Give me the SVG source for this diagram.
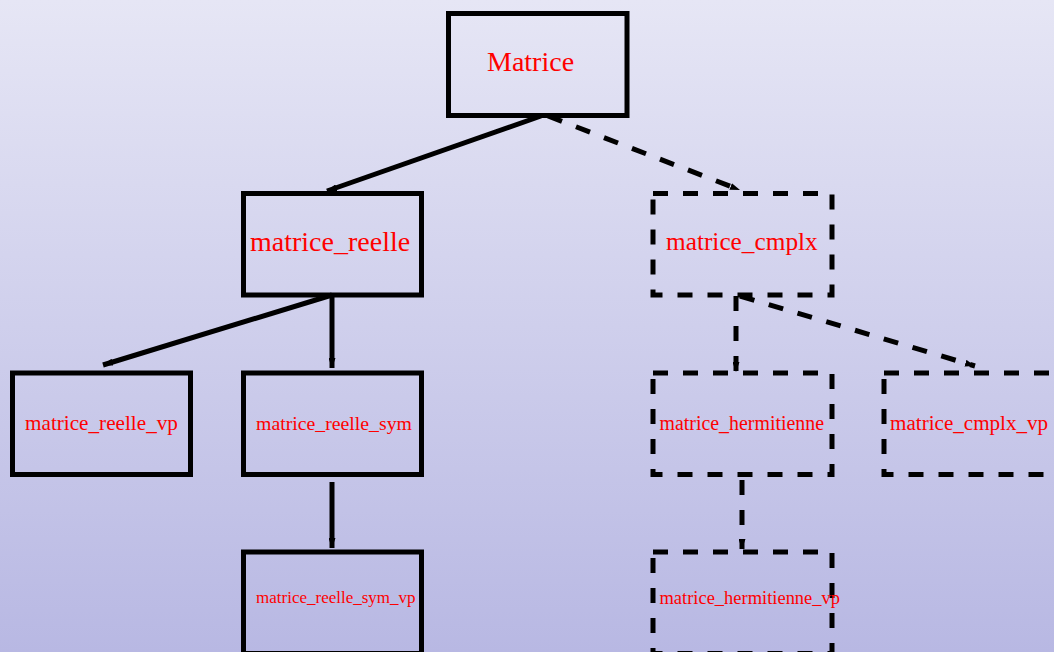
<svg xmlns="http://www.w3.org/2000/svg" width="1054" height="652" viewBox="0 0 1054 652">
  <defs>
    <linearGradient id="bg" x1="0" y1="0" x2="0" y2="1">
      <stop offset="0" stop-color="#e6e6f5"/>
      <stop offset="1" stop-color="#b8b8e3"/>
    </linearGradient>
    <marker id="tip" viewBox="0 0 10 7" refX="10" refY="3.5" markerWidth="10" markerHeight="7" markerUnits="userSpaceOnUse" orient="auto">
      <path d="M0,0 L10,3.5 L0,7 Z" fill="#000"/>
    </marker>
    <style>
      .box { fill: none; stroke: #000; stroke-width: 5; }
      .dash { stroke-dasharray: 15 15; }
      .edge { fill: none; stroke: #000; stroke-width: 5; }
      .label { fill: #ff0000; font-family: "Liberation Serif", "Times New Roman", serif; }
    </style>
  </defs>

  <rect x="0" y="0" width="1054" height="652" fill="url(#bg)"/>

  <g id="connectors">
    <line class="edge" x1="541" y1="116" x2="327" y2="191" marker-end="url(#tip)"/>
    <line class="edge dash" x1="548" y1="116" x2="740" y2="190" marker-end="url(#tip)"/>
    <line class="edge" x1="332" y1="295" x2="103" y2="365" marker-end="url(#tip)"/>
    <line class="edge" x1="332" y1="295" x2="332" y2="368" marker-end="url(#tip)"/>
    <line class="edge" x1="332" y1="482" x2="332" y2="548" marker-end="url(#tip)"/>
    <line class="edge dash" x1="736" y1="296" x2="736" y2="372" marker-end="url(#tip)"/>
    <line class="edge dash" x1="740" y1="296" x2="975" y2="366" marker-end="url(#tip)"/>
    <line class="edge dash" x1="742" y1="480" x2="742" y2="549" marker-end="url(#tip)"/>
  </g>

  <g id="matrice">
    <rect class="box" x="448.5" y="13.5" width="178.5" height="102"/>
    <text class="label" x="487" y="71" font-size="28">Matrice</text>
  </g>

  <g id="matrice_reelle">
    <rect class="box" x="243.5" y="193.5" width="178" height="101.5"/>
    <text class="label" x="250" y="251" font-size="28">matrice_reelle</text>
  </g>

  <g id="matrice_cmplx">
    <rect class="box dash" x="653" y="193.5" width="179" height="101.5"/>
    <text class="label" x="666" y="250" font-size="25.3">matrice_cmplx</text>
  </g>

  <g id="matrice_reelle_vp">
    <rect class="box" x="12.5" y="373" width="178" height="101.5"/>
    <text class="label" x="25" y="430" font-size="21.2">matrice_reelle_vp</text>
  </g>

  <g id="matrice_reelle_sym">
    <rect class="box" x="243.5" y="373" width="178" height="101.5"/>
    <text class="label" x="256" y="430" font-size="19.8">matrice_reelle_sym</text>
  </g>

  <g id="matrice_hermitienne">
    <rect class="box dash" x="653" y="373" width="179" height="101.5"/>
    <text class="label" x="659.5" y="430" font-size="20" textLength="164.5" lengthAdjust="spacingAndGlyphs">matrice_hermitienne</text>
  </g>

  <g id="matrice_cmplx_vp">
    <rect class="box dash" x="884" y="373" width="179" height="101.5"/>
    <text class="label" x="890" y="430" font-size="21.1">matrice_cmplx_vp</text>
  </g>

  <g id="matrice_reelle_sym_vp">
    <rect class="box" x="243.5" y="552" width="178" height="101.5"/>
    <text class="label" x="256" y="603" font-size="17">matrice_reelle_sym_vp</text>
  </g>

  <g id="matrice_hermitienne_vp">
    <rect class="box dash" x="653" y="552" width="179" height="101.5"/>
    <text class="label" x="659.5" y="604" font-size="18.5" textLength="180.5" lengthAdjust="spacingAndGlyphs">matrice_hermitienne_vp</text>
  </g>
</svg>
